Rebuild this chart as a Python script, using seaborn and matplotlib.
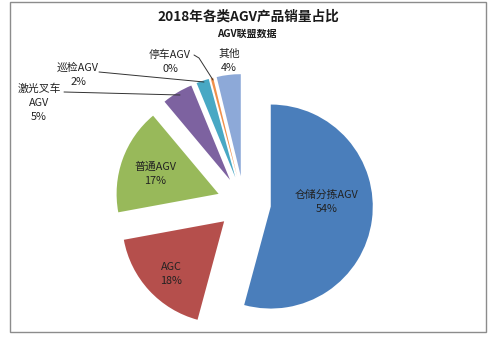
import matplotlib
matplotlib.use("Agg")
import matplotlib.pyplot as plt
import seaborn as sns
from matplotlib.patches import Rectangle

# 2018 AGV product sales share (AGV联盟数据)
categories = ["仓储分拣AGV", "AGC", "普通AGV", "激光叉车AGV", "巡检AGV", "停车AGV", "其他"]
shares = [54.2, 17.9, 16.8, 4.9, 2.0, 0.4, 3.8]
label_names = ["仓储分拣AGV", "AGC", "普通AGV", "激光叉车\nAGV", "巡检AGV", "停车AGV", "其他"]
slice_colors = ["#4A7EBB", "#B54F4C", "#98B95A", "#7D62A0", "#48A8C4", "#F0904A", "#8DA9D8"]

sns.set_theme(style="white")
plt.rcParams["font.family"] = ["Noto Sans CJK SC", "DejaVu Sans"]

W, H = 496, 339
fig = plt.figure(figsize=(W / 100, H / 100), dpi=100)
ax = fig.add_axes([0, 0, 1, 1])

def py(y):
    # figure pixel row -> data y
    return H - y

palette = sns.color_palette(slice_colors)
radius = 102
# matplotlib offsets exploded wedges in data units
ax.pie(shares, colors=palette, startangle=90, counterclock=False,
       explode=[27] * len(shares), center=(244, py(203)), radius=radius,
       wedgeprops=dict(linewidth=0), frame=False)

ax.set_xlim(0, W)
ax.set_ylim(0, H)
ax.set_aspect("auto")
ax.axis("off")

# chart border
ax.add_patch(Rectangle((10, py(332)), 476, 330, fill=False,
                       edgecolor="#8c8c8c", linewidth=1.0))

ax.text(248, py(17), "2018年各类AGV产品销量占比", ha="center", va="center",
        fontsize=9.8, fontweight="bold", color="#1a1a1a")
ax.text(247, py(34), "AGV联盟数据", ha="center", va="center",
        fontsize=7.2, fontweight="bold", color="#1a1a1a")

pct = [f"{round(v)}%" for v in shares]
txt = dict(ha="center", va="center", fontsize=7.8, color="#222222", linespacing=1.5)

# label anchor (pixel) for each category
label_xy = [(327, 202), (171, 274), (155, 174), (39, 103), (78, 75), (170, 62), (229, 61)]
for name, p, (x, y) in zip(label_names, pct, label_xy):
    ax.text(x, py(y), f"{name}\n{p}", **txt)

# leader lines for the thin slices
line_kw = dict(color="#333333", linewidth=0.7)
ax.plot([64, 180], [py(92), py(95)], **line_kw)
ax.plot([99, 204], [py(72), py(82)], **line_kw)
ax.plot([194, 199, 213], [py(55), py(58), py(80)], **line_kw)

fig.savefig("out.png", dpi=100, facecolor="white")
